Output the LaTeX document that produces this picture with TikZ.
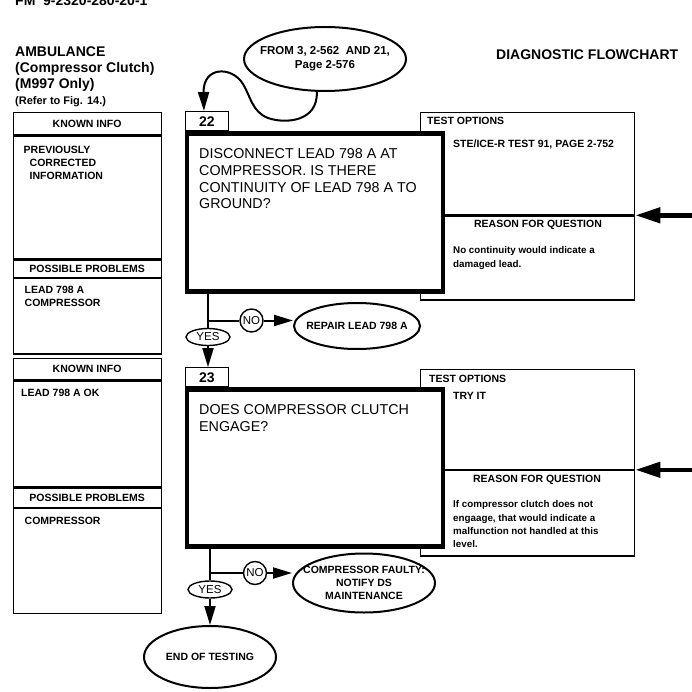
\documentclass[tikz,border=0pt]{standalone}
\usepackage{fontspec}
\setmainfont{Liberation Sans}
\usetikzlibrary{arrows.meta,positioning,shapes.geometric}

\begin{document}
\begin{tikzpicture}[
    x=1pt, y=-1pt,
    title/.style={font=\fontsize{14}{16}\selectfont\bfseries, inner sep=0pt, align=left},
    small/.style={font=\fontsize{10.5}{12.8}\selectfont\bfseries, inner sep=0pt, align=left},
    note/.style={font=\fontsize{9.8}{13.2}\selectfont\bfseries, inner sep=0pt, align=left},
    question/.style={font=\fontsize{14.3}{16.7}\selectfont, inner sep=0pt, align=left},
    panel/.style={draw, line width=1.3pt, minimum width=148pt, inner sep=0pt,
                  font=\fontsize{10.5}{12.8}\selectfont\bfseries},
    optbox/.style={draw, line width=1.3pt, minimum width=214pt, inner sep=0pt},
    qbox/.style={draw, line width=4.5pt, fill=white, minimum width=256pt, inner sep=0pt},
    numbox/.style={draw, line width=1.3pt, fill=white, minimum width=43pt, minimum height=19pt,
                   inner sep=0pt, font=\fontsize{14}{16}\selectfont\bfseries},
    oval/.style={ellipse, draw, line width=2pt, inner sep=0pt},
    answer/.style={oval, line width=1.4pt, minimum width=44pt, minimum height=17pt,
                   font=\fontsize{11.5}{12}\selectfont},
    nobub/.style={circle, draw, line width=1.4pt, minimum size=23pt, inner sep=0pt,
                  font=\fontsize{11.5}{12}\selectfont},
    ovaltext/.style={font=\fontsize{10.5}{13}\selectfont\bfseries, align=center},
    flow/.style={line width=2pt, -{Triangle[length=19pt,width=11pt]}},
    link/.style={line width=2pt},
    feed/.style={line width=4.5pt, -{Triangle[length=25pt,width=15pt]}},
]
\useasboundingbox (0,0) rectangle (691,692);

% ---------- page headings ----------
\node[title, anchor=base west] (fm)    at (15,6)   {FM\ \ 9-2320-280-20-1};
\node[title, anchor=north west] (topic) at (15,46.5) {AMBULANCE\\(Compressor Clutch)\\(M997 Only)};
\node[font=\fontsize{11}{13}\selectfont\bfseries, inner sep=0pt, anchor=base west] (refer) at (15,105) {(Refer to Fig. 14.)};
\node[title, anchor=base west] (chart) at (496,60) {DIAGNOSTIC FLOWCHART};

% entry point
\node[oval, minimum width=162pt, minimum height=64pt,
      label={[ovaltext, font=\fontsize{11.5}{14}\selectfont\bfseries]center:{FROM 3, 2-562\ \ AND 21,\\Page 2-576}}] (from) at (325,59) {};

% ---------- step 22 ----------
\node[panel, anchor=north west, minimum height=22pt] (known1) at (12.5,112) {KNOWN INFO};
\node[panel, below=0pt of known1, minimum height=123pt] (facts1) {};
\node[panel, below=0pt of facts1, minimum height=17pt] (probs1) {POSSIBLE PROBLEMS};
\node[panel, below=0pt of probs1, minimum height=75.5pt] (causes1) {};
\node[small, anchor=north west] (facts1t) at ([xshift=11pt,yshift=-11pt]facts1.north west)
  {PREVIOUSLY\\\hspace*{6pt}CORRECTED\\\hspace*{6pt}INFORMATION};
\node[small, anchor=north west] (causes1t) at ([xshift=12pt,yshift=-8pt]causes1.north west)
  {LEAD 798 A\\COMPRESSOR};

\node[optbox, anchor=north west, minimum height=102pt] (opt1) at (420,112) {};
\node[optbox, below=0pt of opt1, minimum height=84pt] (why1) {};
\node[small, anchor=west] (opt1h) at ([xshift=7pt,yshift=-8.5pt]opt1.north west) {TEST OPTIONS};
\node[small, anchor=west] (opt1t) at (453,145) {STE/ICE-R TEST 91, PAGE 2-752};
\node[small] (why1h) at (538,225) {REASON FOR QUESTION};
\node[note, anchor=north west] (why1t) at (453,246.5) {No continuity would indicate a\\damaged lead.};

\node[qbox, anchor=north west, minimum height=158pt] (q1) at (184.8,131.3) {};
\node[question, anchor=north west] (q1t) at (199,148.5)
  {DISCONNECT LEAD 798 A AT\\COMPRESSOR. IS THERE\\CONTINUITY OF LEAD 798 A TO\\GROUND?};
\node[numbox, anchor=south west] (n22) at (q1.north west) {22};

\coordinate (in1) at ([xshift=57pt]opt1.south east);
\draw[feed] (in1) -- (opt1.south east);

\draw[flow] (from.-104) .. controls (318,122) and (285,124) .. (268,118)
  .. controls (252,112) and (250,95) .. (243,84)
  .. controls (232,66) and (203,66) .. ([xshift=-3pt]n22.north);

\node[answer] (yes1) at (208,337) {YES};
\node[nobub] (no1) at (251.5,320.5) {NO};
\node[oval, minimum width=126pt, minimum height=46pt,
      label={[ovaltext]center:{REPAIR LEAD 798 A}}] (repair) at (357,326) {};

% ---------- step 23 ----------
\node[panel, anchor=north west, minimum height=21pt] (known2) at (12.5,358) {KNOWN INFO};
\node[panel, below=0pt of known2, minimum height=106pt] (facts2) {};
\node[panel, below=0pt of facts2, minimum height=19pt] (probs2) {POSSIBLE PROBLEMS};
\node[panel, below=0pt of probs2, minimum height=105pt] (causes2) {};
\node[small, anchor=north west] (facts2t) at ([xshift=8.5pt,yshift=-9pt]facts2.north west) {LEAD 798 A OK};
\node[small, anchor=north west] (causes2t) at ([xshift=12pt,yshift=-9pt]causes2.north west) {COMPRESSOR};

\node[optbox, anchor=north west, minimum height=100pt] (opt2) at (420,368.5) {};
\node[optbox, below=0pt of opt2, minimum height=85.5pt] (why2) {};
\node[small, anchor=west] (opt2h) at ([xshift=9pt,yshift=-10pt]opt2.north west) {TEST OPTIONS};
\node[small, anchor=west] (opt2t) at (453,396) {TRY IT};
\node[small] (why2h) at (537,480) {REASON FOR QUESTION};
\node[note, anchor=north west] (why2t) at (453,500.5)
  {If compressor clutch does not\\engaage, that would indicate a\\malfunction not handled at this\\level.};

\node[qbox, anchor=north west, minimum height=157pt] (q2) at (184.8,387.4) {};
\node[question, anchor=north west] (q2t) at (199,404.5) {DOES COMPRESSOR CLUTCH\\ENGAGE?};
\node[numbox, anchor=south west] (n23) at (q2.north west) {23};

\coordinate (in2) at ([xshift=57pt]opt2.south east);
\draw[feed] (in2) -- (opt2.south east);

\draw[link] (q1.south -| yes1) -- (yes1.north);
\draw[link] (yes1 |- no1) -- (no1.west);
\draw[flow] (no1.east) -- (no1 -| repair.west);
\draw[flow] (yes1.south) -- (yes1 |- n23.north);

\node[answer] (yes2) at (210,589.5) {YES};
\node[nobub] (no2) at (255,573) {NO};
\node[oval, minimum width=142pt, minimum height=59pt,
      label={[ovaltext]center:{COMPRESSOR FAULTY:\\NOTIFY DS\\MAINTENANCE}}] (fault) at (364,583) {};
\node[oval, minimum width=132pt, minimum height=62pt,
      label={[ovaltext]center:{END OF TESTING}}] (endtest) at (210,657) {};

\draw[link] (q2.south -| yes2) -- (yes2.north);
\draw[link] (yes2 |- no2) -- (no2.west);
\draw[flow] (no2.east) -- (no2 -| fault.west);
\draw[flow] (yes2.south) -- (endtest.north);

\end{tikzpicture}
\end{document}
